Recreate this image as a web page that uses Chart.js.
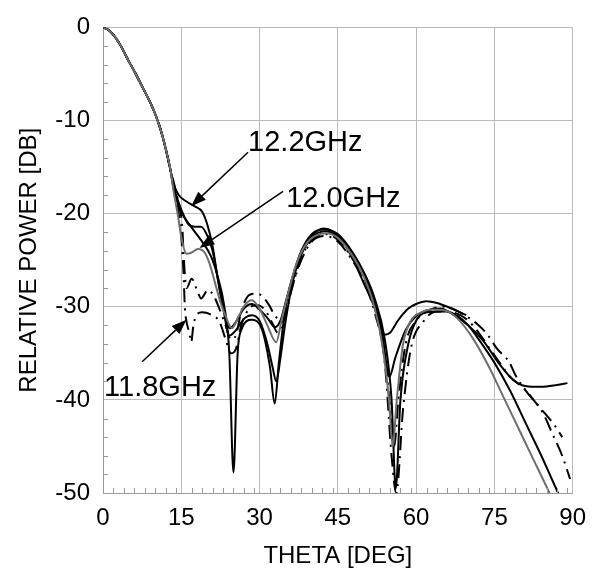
<!DOCTYPE html>
<html>
<head>
<meta charset="utf-8">
<script src="https://cdn.jsdelivr.net/npm/chart.js@4"></script>
<style>
  body { margin: 0; background: white; }
  canvas { display: block; }
</style>
</head>
<body>
<canvas id="plot" width="597" height="575"></canvas>
<script>
// main lobe shared by all curves
const mainTheta = [0, 1, 2, 3, 4, 5, 6, 7, 8, 9, 10, 11, 12, 13];
const mainPower = [0, -0.25, -0.8, -1.6, -2.6, -3.7, -4.7, -5.8, -6.9, -8.0, -9.3, -10.9, -13.0, -15.5];

// 12.2GHz (black)
const thetaA = [13.5, 14.5, 16, 17.5, 19, 20, 21, 22, 23, 24.3, 25.5, 27, 28.5, 30, 31.5, 33, 34, 35, 36.5, 38, 40, 42.3, 44, 46, 48, 50, 52, 53, 54, 55, 56.5, 58.5, 60, 62, 64, 66, 68, 69.6];
const powerA = [-16.8, -18.0, -18.7, -19.2, -19.8, -21.2, -23.5, -27, -30, -32.3, -31.6, -30.2, -29.7, -30.3, -31.2, -32.2, -31.5, -29.5, -26.5, -24.2, -22.4, -21.6, -21.9, -23, -25, -27.5, -30, -31.5, -33, -32.8, -31.5, -30.2, -29.7, -29.4, -29.6, -30, -30.5, -30.9];

const thetaB = [13.5, 14.5, 15.1, 16.3, 17.6, 18.8, 20.1, 21, 22, 23, 24.2, 25.5, 27, 28.5, 30, 31.5, 32.5, 33.2, 34, 35, 36.5, 38, 40, 42.5, 45, 48, 50, 52, 53.5, 54.9, 56, 58, 60, 62, 64.6, 67, 70, 72.8, 75.9, 78.5, 80.9, 84, 87, 89];
const powerB = [-17, -18.8, -19.7, -21.1, -21.4, -21.4, -22.5, -24, -27, -30, -33.1, -32.5, -31.3, -30.9, -31.5, -34, -36.5, -38, -35.5, -31.5, -27, -24.4, -22.6, -21.9, -22.5, -24.5, -26.5, -29.5, -33, -37.5, -35.5, -32.5, -31, -30.4, -30.2, -30.8, -32, -33.6, -36.1, -37.8, -38.5, -38.6, -38.4, -38.2];

const thetaD = [13.5, 15, 17, 19, 20.7, 22, 23.2, 24.2, 25, 25.8, 26.5, 28.5, 30.5, 32, 32.9, 33.7, 35, 36.5, 38, 40, 42.3, 45, 48, 50, 52, 54, 55.3, 56.1, 57, 58.5, 60, 62, 65.8, 68, 70, 72, 75, 78, 81, 84, 86, 88];
const powerD = [-17.3, -19.8, -21.5, -23, -24.6, -26.8, -29.8, -35, -47.8, -35, -32.5, -31.4, -32.5, -36.5, -40.4, -36, -30, -26.5, -24, -22.2, -21.7, -22.2, -24.3, -26.3, -29, -33.5, -40, -49.5, -40, -34, -31.5, -30.6, -30.5, -31, -32, -33.5, -36, -39, -42.5, -46, -48.5, -51];

// 12.0GHz (grey)
const thetaC = [13.5, 14.3, 15.1, 16, 16.9, 18.2, 19.5, 20.5, 21.5, 22.5, 23.5, 24.7, 26, 27.2, 28.5, 30, 31.5, 33.2, 34.2, 35.5, 37, 39, 41, 42.7, 45, 48, 50, 52, 53.5, 54.8, 55.5, 56.3, 57.5, 59, 61, 63, 65.5, 68, 71, 74, 77, 80, 83, 86];
const powerC = [-17.5, -20, -22.8, -24.3, -24.2, -23.8, -24.2, -25.5, -27.5, -29.5, -31, -32.3, -31, -29.8, -29.3, -30.2, -32, -33.8, -31.5, -28.5, -25.5, -23.2, -22.3, -22.1, -22.6, -24.7, -26.8, -30, -34, -40, -45, -40, -34, -31.5, -30.6, -30.3, -30.4, -31.3, -33.5, -36.5, -40, -43.5, -47, -50.5];

// 11.8GHz (dash-dot)
const thetaE = [13.5, 14.5, 15.2, 15.5, 16, 17, 18.2, 18.8, 20.1, 21.2, 22.3, 23.5, 24.5, 25.5, 26.5, 27.9, 29.2, 30.4, 31.8, 33, 34.5, 36, 37.5, 39.5, 42.5, 45, 48, 50, 52, 54, 55.2, 55.8, 56.6, 58, 60, 62.5, 65, 67, 69, 71.8, 73.7, 75.5, 77.8, 79, 81, 84, 86.5, 88];
const powerE = [-16.5, -19, -21.5, -25, -28, -27, -28.5, -29.1, -28.2, -28.8, -30.2, -32, -33.5, -33, -30.5, -28.8, -28.6, -28.8, -29.8, -31, -31.6, -28.5, -25.5, -23.2, -22.2, -22.8, -25, -27, -30, -35, -42, -45, -40, -34, -31.5, -30.4, -30, -30.2, -30.8, -31.9, -33, -34.5, -35.9, -37.3, -39, -41, -42.7, -44];

const thetaF = [13.5, 14.5, 15, 15.4, 15.7, 16, 16.5, 16.9, 17.3, 17.9, 19, 20.5, 22.3, 23.5, 24.5, 25.5, 26.5, 28, 29.5, 31, 32.5, 33.5, 34.5, 36, 38, 40, 42.5, 45, 48, 50, 52, 54, 55.3, 56.2, 57.5, 59, 61.5, 64, 67, 70, 72, 74, 76, 78, 80.9, 82.5, 84.4, 86, 88, 89.5];
const powerF = [-17, -20, -22.5, -26, -30.2, -31.6, -32.7, -33.8, -32.1, -30.9, -30.6, -30.8, -31.6, -33.5, -35, -34.5, -32, -30.2, -29.8, -30.3, -31.8, -32.8, -31.5, -28.3, -25, -23, -22.4, -23, -25.2, -27.2, -30.5, -36, -46, -50, -41, -34.5, -31.5, -30.5, -30.6, -31.5, -32.8, -34.4, -36, -37.5, -38.9, -40, -41.5, -43.5, -46, -48.5];

// label text, anchor (deg, dB) of text, arrow tail and arrow tip
const labels = [
  { text: "12.2GHz", at: [27.8, -13.3], from: [27.8, -13.4], to: [16.9, -19.2] },
  { text: "12.0GHz", at: [35.1, -19.3], from: [34.5, -17.6], to: [18.5, -23.7] },
  { text: "11.8GHz", at: [0.2, -39.6], from: [7.5, -35.9], to: [16.0, -31.4] },
];

const FONT = "'Liberation Sans', Arial, Helvetica, sans-serif";

function curve(theta, power) {
  const xs = mainTheta.concat(theta);
  const ys = mainPower.concat(power);
  return xs.map((x, i) => ({ x: x, y: ys[i] }));
}

function series(theta, power, color, dash) {
  return {
    data: curve(theta, power),
    borderColor: color,
    borderWidth: 2,
    borderDash: dash || [],
    pointRadius: 0,
    cubicInterpolationMode: "monotone",
    fill: false,
  };
}

const minorTicks = {
  id: "minor_ticks",
  afterDraw: (chart) => {
    const ctx = chart.ctx;
    const xs = chart.scales.x;
    const ys = chart.scales.y;
    ctx.save();
    ctx.strokeStyle = "#999";
    ctx.lineWidth = 1;
    ctx.beginPath();
    for (let m = 0; m < 90; m += 15) {
      for (let j = 1; j <= 7; j++) {
        const px = Math.round(xs.getPixelForValue(m + 2 * j)) + 0.5;
        ctx.moveTo(px, ys.bottom);
        ctx.lineTo(px, ys.bottom - 5);
      }
    }
    for (let v = -48; v < 0; v += 2) {
      if (v % 10 === 0) continue;
      const py = Math.round(ys.getPixelForValue(v)) + 0.5;
      ctx.moveTo(xs.left, py);
      ctx.lineTo(xs.left + 5, py);
    }
    ctx.stroke();
    ctx.restore();
  },
};

const arrowLabels = {
  id: "arrow_labels",
  afterDatasetsDraw: (chart) => {
    const ctx = chart.ctx;
    const xs = chart.scales.x;
    const ys = chart.scales.y;
    ctx.save();
    ctx.fillStyle = "black";
    ctx.strokeStyle = "black";
    ctx.lineWidth = 1.5;
    ctx.font = "29px " + FONT;
    ctx.textBaseline = "alphabetic";
    labels.forEach((l) => {
      ctx.fillText(l.text, xs.getPixelForValue(l.at[0]), ys.getPixelForValue(l.at[1]));
      const x1 = xs.getPixelForValue(l.from[0]);
      const y1 = ys.getPixelForValue(l.from[1]);
      const x2 = xs.getPixelForValue(l.to[0]);
      const y2 = ys.getPixelForValue(l.to[1]);
      const a = Math.atan2(y2 - y1, x2 - x1);
      const len = 15;
      const bx = x2 - len * Math.cos(a);
      const by = y2 - len * Math.sin(a);
      ctx.beginPath();
      ctx.moveTo(x1, y1);
      ctx.lineTo(bx, by);
      ctx.stroke();
      ctx.beginPath();
      ctx.moveTo(x2, y2);
      ctx.lineTo(bx + 5.5 * Math.sin(a), by - 5.5 * Math.cos(a));
      ctx.lineTo(bx - 5.5 * Math.sin(a), by + 5.5 * Math.cos(a));
      ctx.closePath();
      ctx.fill();
    });
    ctx.restore();
  },
};

const canvas = document.getElementById("plot");
const chart = new Chart(canvas.getContext("2d"), {
  type: "line",
  plugins: [minorTicks, arrowLabels],
  data: {
    datasets: [
      series(thetaC, powerC, "#6e6e6e"),
      series(thetaE, powerE, "black", [14, 6, 2, 6]),
      series(thetaF, powerF, "black", [14, 6, 2, 6]),
      series(thetaD, powerD, "black"),
      series(thetaB, powerB, "black"),
      series(thetaA, powerA, "black"),
    ],
  },
  options: {
    responsive: false,
    animation: false,
    layout: { padding: { top: 15, right: 15, left: 0, bottom: 0 } },
    plugins: { legend: { display: false }, tooltip: { enabled: false } },
    scales: {
      x: {
        type: "linear",
        min: 0,
        max: 90,
        afterFit: (s) => { s.height = 82; },
        ticks: { stepSize: 15, color: "black", padding: 11, font: { family: FONT, size: 24 } },
        grid: { color: "#bbb", drawTicks: false },
        border: { color: "#999" },
        title: { display: true, text: "THETA [DEG]", color: "black", padding: { top: 4 }, font: { family: FONT, size: 24 } },
      },
      y: {
        min: -50,
        max: 0,
        afterFit: (s) => { s.width = 103; },
        ticks: { stepSize: 10, color: "black", padding: 13, font: { family: FONT, size: 24 } },
        grid: { color: "#bbb", drawTicks: false },
        border: { color: "#999" },
        title: { display: true, text: "RELATIVE POWER [DB]", color: "black", padding: { top: 15 }, font: { family: FONT, size: 24 } },
      },
    },
  },
});
</script>
</body>
</html>
